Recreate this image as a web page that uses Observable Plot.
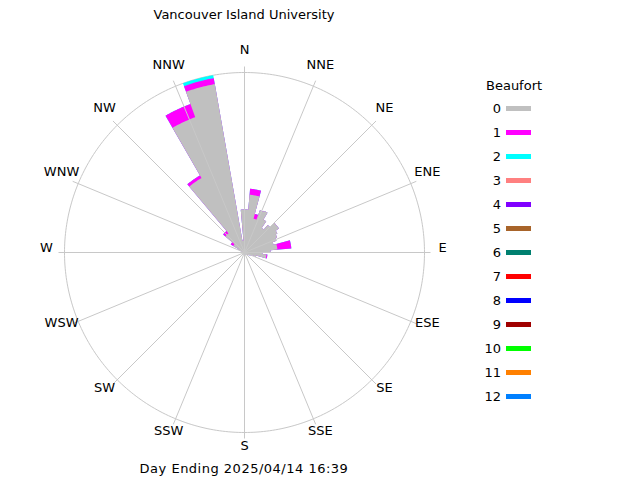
<!DOCTYPE html>
<html>
<head>
<meta charset="utf-8">
<script src="https://cdn.jsdelivr.net/npm/d3@7"></script>
<script src="https://cdn.jsdelivr.net/npm/@observablehq/plot@0.6"></script>
<style>
  body { margin: 0; background: #fff; }
  #wrap { position: relative; width: 640px; height: 480px; font-family: "DejaVu Sans", sans-serif; font-size: 13px; color: #000; overflow: hidden; }
  #wrap svg { position: absolute; left: 0; top: 0; }
  .abs { position: absolute; white-space: nowrap; line-height: 1; }
  .sw { position: absolute; width: 25px; height: 5px; }
</style>
</head>
<body>
<div id="wrap"></div>
<script>
// ---- texts ----
const title = "Vancouver Island University";
const caption = "Day Ending 2025/04/14 16:39";
const legendTitle = "Beaufort";
const compass = ["N","NNE","NE","ENE","E","ESE","SE","SSE","S","SSW","SW","WSW","W","WNW","NW","NNW"];

// ---- Beaufort classes and colours ----
const beaufortClasses = ["0","1","2","3","4","5","6","7","8","9","10","11","12"];
const beaufortColors = ["#c0c0c0","#ff00ff","#00ffff","#ff8080","#8000ff","#a8642a","#008070","#ff0000","#0000ff","#a00000","#00ff00","#ff8000","#0080ff"];

// ---- direction bins (start angle, degrees, 5 degree bins) ----
const binStart = [0,5,10,15,20,25,30,35,40,45,50,55,60,65,70,75,80,85,90,95,100,105,110,115,120,125,130,135,140,145,150,155,160,165,170,175,
                  180,185,190,195,200,205,210,215,220,225,230,235,240,245,250,255,260,265,270,275,280,285,290,295,300,305,310,315,320,325,330,335,340,345,350,355];
const binWidth = 5;

// ---- frequencies per bin (outer ring = 90) ----
const force0 = [21.5,29,29,17.5,22.5,23,19,15,18,21,21,19,18,17,15,16.5,16.5,13,9,11,11,6,4,3,2.5,2,2,1.5,1.5,1,1,1,1,1,1,1,
                0,0,0,0,1,0,0,0,0,0,1,0,0,0,0,0,1,0,0,0,0,0,2.5,3.5,6.5,6.5,12.5,12.5,43,43,72,72,85.5,85.5,6,21.5];
const force1 = [0,3,3,2.5,0,0,0,0,0,0,0,0,0,0,0,7,7,0,0,0.5,0.5,0,0,0,0,0,0,0,0,0,0,0,0,0,0,0,
                0,0,0,0,0,0,0,0,0,0,0,0,0,0,0,0,0,0,0,0,0,0,0,0,1.5,1.5,1.5,1.5,1.5,1.5,7,7,3,3,0,0];
const force2 = [0,0,0,0,0,0,0,0,0,0,0,0,0,0,0,0,0,0,0,0,0,0,0,0,0,0,0,0,0,0,0,0,0,0,0,0,
                0,0,0,0,0,0,0,0,0,0,0,0,0,0,0,0,0,0,0,0,0,0,0,0,0,0,0,0,0,0,0,0,1.5,1.5,0,0];
const series = [force0, force1, force2]; // classes 3..12 had no observations

const ringValue = 90;

// ---- cumulative outlines, painted from the outermost class inwards ----
const rad = Math.PI / 180;
const pts = [];
for (let k = series.length - 1; k >= 0; k--) {
  binStart.forEach((a, i) => {
    let cum = 0;
    for (let j = 0; j <= k; j++) cum += series[j][i];
    for (const t of d3.range(a, a + binWidth + 1e-9, 0.5)) {
      pts.push({cls: beaufortClasses[k], t, r: cum});
    }
  });
}

const circlePts = d3.range(0, 361, 1).map(t => ({t, r: ringValue}));
const spokes = compass.map((name, i) => ({name, t: i * 22.5}));

const px = d => d.r * Math.sin(d.t * rad);
const py = d => d.r * Math.cos(d.t * rad);

const chart = Plot.plot({
  width: 640,
  height: 480,
  margin: 0,
  x: {domain: [-122, 198], axis: null},
  y: {domain: [-114, 126], axis: null},
  color: {domain: beaufortClasses, range: beaufortColors},
  style: {background: "transparent", fontFamily: "DejaVu Sans, sans-serif"},
  marks: [
    Plot.line(circlePts, {x: px, y: py, stroke: "#c8c8c8", strokeWidth: 1}),
    Plot.line(pts, {x: px, y: py, z: "cls", fill: "cls", stroke: "none", curve: "linear-closed"}),
    Plot.link(spokes, {
      x1: 0, y1: 0,
      x2: d => 93 * Math.sin(d.t * rad), y2: d => 93 * Math.cos(d.t * rad),
      stroke: "#c8c8c8", strokeWidth: 1
    }),
    Plot.text(spokes, {
      x: d => 99 * Math.sin(d.t * rad), y: d => 99 * Math.cos(d.t * rad),
      text: "name", dy: -5, fontSize: 13, fill: "#000", textAnchor: "middle", lineAnchor: "middle"
    })
  ]
});

const wrap = document.getElementById("wrap");
wrap.appendChild(chart);

function addText(str, left, top, anchor) {
  const el = document.createElement("div");
  el.className = "abs";
  el.textContent = str;
  el.style.top = top + "px";
  if (anchor === "middle") { el.style.left = left + "px"; el.style.transform = "translateX(-50%)"; }
  else if (anchor === "end") { el.style.right = (640 - left) + "px"; }
  else { el.style.left = left + "px"; }
  wrap.appendChild(el);
  return el;
}

addText(title, 244, 8, "middle");
addText(caption, 244, 462, "middle").style.letterSpacing = "0.5px";
addText(legendTitle, 486, 79, "start");

beaufortClasses.forEach((c, i) => {
  const y = 108 + i * 24;
  addText(c, 501, y - 6, "end");
  const sw = document.createElement("div");
  sw.className = "sw";
  sw.style.left = "506px";
  sw.style.top = (y - 2) + "px";
  sw.style.background = beaufortColors[i];
  wrap.appendChild(sw);
});
</script>
</body>
</html>
